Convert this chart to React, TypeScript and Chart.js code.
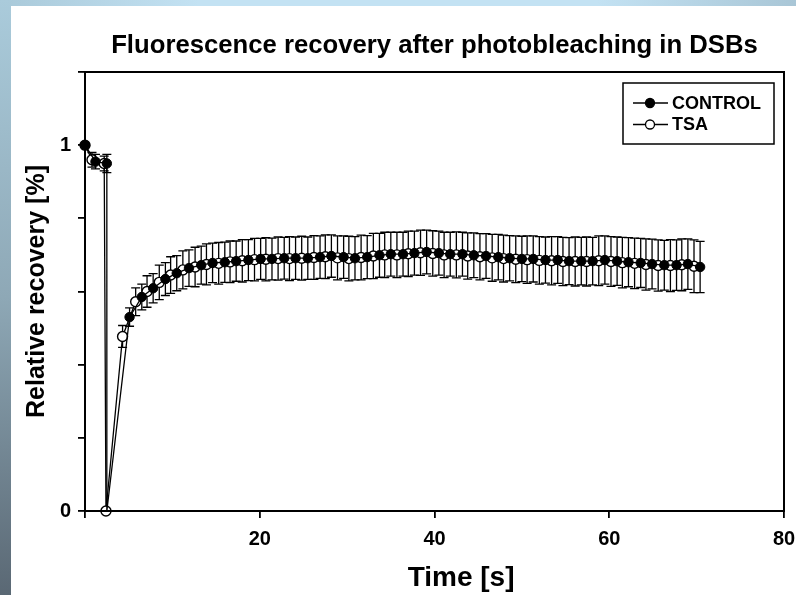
import React, { useEffect, useRef } from 'react';
import { Chart, registerables } from 'chart.js';

Chart.register(...registerables);

const FONT = '"Liberation Sans", Arial, Helvetica, sans-serif';

const CHART_TITLE = 'Fluorescence recovery after photobleaching in DSBs';
const X_TITLE = 'Time [s]';
const Y_TITLE = 'Relative recovery [%]';
const SERIES_NAMES = ['CONTROL', 'TSA'];

const X_TICKS = [0, 20, 40, 60, 80];
const X_TICK_LABELS = ['', '20', '40', '60', '80'];
const Y_TICKS = [0, 0.2, 0.4, 0.6, 0.8, 1, 1.2];
const Y_TICK_LABELS = ['0', '', '', '', '', '1', ''];

const controlTime = [0, 1.2, 2.5, 2.5, 5.1, 6.5, 7.8, 9.2, 10.5, 11.9, 13.3, 14.6, 16.0, 17.3, 18.7, 20.1, 21.4, 22.8, 24.1, 25.5, 26.9, 28.2, 29.6, 30.9, 32.3, 33.7, 35.0, 36.4, 37.7, 39.1, 40.5, 41.8, 43.2, 44.5, 45.9, 47.3, 48.6, 50.0, 51.3, 52.7, 54.1, 55.4, 56.8, 58.1, 59.5, 60.9, 62.2, 63.6, 64.9, 66.3, 67.7, 69.0, 70.4];
const controlValue = [1.0, 0.955, 0.95, 0, 0.530, 0.585, 0.609, 0.634, 0.650, 0.664, 0.672, 0.678, 0.680, 0.683, 0.686, 0.689, 0.689, 0.691, 0.691, 0.691, 0.694, 0.697, 0.694, 0.691, 0.694, 0.699, 0.702, 0.702, 0.705, 0.708, 0.705, 0.702, 0.702, 0.699, 0.697, 0.694, 0.691, 0.689, 0.689, 0.686, 0.686, 0.683, 0.683, 0.683, 0.686, 0.683, 0.680, 0.678, 0.675, 0.672, 0.672, 0.675, 0.667];
const controlError = [0, 0.02, 0.025, 0, 0.025, 0.035, 0.04, 0.045, 0.048, 0.05, 0.052, 0.054, 0.055, 0.055, 0.056, 0.056, 0.057, 0.057, 0.058, 0.058, 0.058, 0.058, 0.058, 0.059, 0.059, 0.06, 0.06, 0.06, 0.06, 0.06, 0.06, 0.06, 0.06, 0.061, 0.061, 0.062, 0.062, 0.062, 0.063, 0.063, 0.064, 0.064, 0.065, 0.065, 0.066, 0.066, 0.067, 0.067, 0.068, 0.068, 0.069, 0.069, 0.07];

const tsaTime = [0, 0.8, 2.2, 2.4, 4.3, 5.8, 7.1, 8.5, 9.8, 11.2, 12.6, 13.9, 15.3, 16.6, 18.0, 19.4, 20.7, 22.1, 23.4, 24.8, 26.2, 27.5, 28.9, 30.2, 31.6, 33.0, 34.3, 35.7, 37.0, 38.4, 39.8, 41.1, 42.5, 43.8, 45.2, 46.6, 47.9, 49.3, 50.6, 52.0, 53.4, 54.7, 56.1, 57.4, 58.8, 60.2, 61.5, 62.9, 64.2, 65.6, 67.0, 68.3, 69.7];
const tsaValue = [1.0, 0.96, 0.95, 0, 0.477, 0.572, 0.600, 0.625, 0.645, 0.659, 0.667, 0.674, 0.677, 0.681, 0.684, 0.687, 0.688, 0.690, 0.690, 0.691, 0.693, 0.695, 0.692, 0.690, 0.693, 0.697, 0.700, 0.700, 0.703, 0.706, 0.704, 0.700, 0.700, 0.697, 0.695, 0.692, 0.690, 0.688, 0.687, 0.685, 0.684, 0.682, 0.682, 0.682, 0.684, 0.682, 0.679, 0.677, 0.674, 0.671, 0.671, 0.673, 0.669];
const tsaError = [0, 0.02, 0.02, 0, 0.03, 0.038, 0.043, 0.047, 0.05, 0.052, 0.054, 0.056, 0.057, 0.057, 0.058, 0.058, 0.059, 0.059, 0.06, 0.06, 0.06, 0.06, 0.06, 0.061, 0.061, 0.062, 0.062, 0.062, 0.062, 0.062, 0.062, 0.062, 0.063, 0.063, 0.063, 0.064, 0.064, 0.064, 0.065, 0.065, 0.066, 0.066, 0.067, 0.067, 0.068, 0.068, 0.069, 0.069, 0.07, 0.07, 0.071, 0.071, 0.072];

const errorBarPlugin = {
  id: 'errorBars',
  beforeDatasetsDraw(chart: any) {
    const { ctx, chartArea } = chart;
    const yScale = chart.scales.y;
    ctx.save();
    ctx.strokeStyle = '#000';
    ctx.lineWidth = 1.3;
    chart.data.datasets.forEach((ds: any, di: number) => {
      const meta = chart.getDatasetMeta(di);
      meta.data.forEach((pt: any, i: number) => {
        const e = ds.errors[i];
        if (!e) return;
        const v = ds.data[i].y;
        const yt = yScale.getPixelForValue(v + e);
        const yb = Math.min(yScale.getPixelForValue(v - e), chartArea.bottom);
        const cap = 4.5;
        ctx.beginPath();
        ctx.moveTo(pt.x, yt);
        ctx.lineTo(pt.x, yb);
        ctx.moveTo(pt.x - cap, yt);
        ctx.lineTo(pt.x + cap, yt);
        ctx.moveTo(pt.x - cap, yb);
        ctx.lineTo(pt.x + cap, yb);
        ctx.stroke();
      });
    });
    ctx.restore();
  },
};

const framePlugin = {
  id: 'frameAndLegend',
  afterDraw(chart: any) {
    const { ctx, chartArea } = chart;
    const cx = (chartArea.left + chartArea.right) / 2;
    ctx.save();
    ctx.strokeStyle = '#000';
    ctx.lineWidth = 2;
    ctx.strokeRect(chartArea.left, chartArea.top, chartArea.right - chartArea.left, chartArea.bottom - chartArea.top);

    ctx.fillStyle = '#000';
    ctx.textAlign = 'center';
    ctx.textBaseline = 'middle';
    // chart title, centred over the plot area
    ctx.font = `bold 25.7px ${FONT}`;
    ctx.fillText(CHART_TITLE, cx, chartArea.top - 26);
    // x axis title
    ctx.font = `bold 28px ${FONT}`;
    ctx.fillText(X_TITLE, chartArea.left + (chartArea.right - chartArea.left) * 0.538, 578);

    // legend box
    const w = 151, h = 61;
    const x1 = chartArea.right - w - 10;
    const y1 = chartArea.top + 11;
    ctx.lineWidth = 1.5;
    ctx.strokeRect(x1, y1, w, h);
    ctx.font = `bold 18px ${FONT}`;
    ctx.textAlign = 'left';
    chart.data.datasets.forEach((ds: any, i: number) => {
      const cy = y1 + 20 + i * 21.5;
      ctx.beginPath();
      ctx.lineWidth = 1.3;
      ctx.moveTo(x1 + 10, cy);
      ctx.lineTo(x1 + 45, cy);
      ctx.stroke();
      ctx.beginPath();
      ctx.arc(x1 + 27, cy, 4.5, 0, Math.PI * 2);
      ctx.fillStyle = ds.pointBackgroundColor;
      ctx.fill();
      ctx.lineWidth = 1.3;
      ctx.stroke();
      ctx.fillStyle = '#000';
      ctx.fillText(ds.label, x1 + 49, cy + 1);
    });
    ctx.restore();
  },
};

export default function App() {
  const canvasRef = useRef<HTMLCanvasElement | null>(null);

  useEffect(() => {
    const canvas = canvasRef.current;
    if (!canvas) return;
    const chart = new Chart(canvas, {
      type: 'scatter',
      data: {
        datasets: [
          {
            label: SERIES_NAMES[0],
            data: controlTime.map((t, i) => ({ x: t, y: controlValue[i] })),
            errors: controlError,
            showLine: true,
            borderColor: '#000',
            borderWidth: 1.3,
            pointBackgroundColor: '#000',
            pointBorderColor: '#000',
            pointBorderWidth: 1,
            pointRadius: (c: any) => (controlValue[c.dataIndex] === 0 ? 0 : 4.7),
            order: 0,
            clip: false,
          } as any,
          {
            label: SERIES_NAMES[1],
            data: tsaTime.map((t, i) => ({ x: t, y: tsaValue[i] })),
            errors: tsaError,
            showLine: true,
            borderColor: '#000',
            borderWidth: 1.3,
            pointBackgroundColor: '#fff',
            pointBorderColor: '#000',
            pointBorderWidth: 1.4,
            pointRadius: 5,
            order: 1,
            clip: false,
          } as any,
        ],
      },
      options: {
        responsive: false,
        animation: false,
        events: [],
        layout: { padding: { left: 0, right: 12, top: 72, bottom: 0 } },
        plugins: {
          legend: { display: false },
          tooltip: { enabled: false },
          title: { display: false },
        },
        scales: {
          x: {
            type: 'linear',
            min: 0,
            max: 80,
            afterBuildTicks: (s: any) => {
              s.ticks = X_TICKS.map((v) => ({ value: v }));
            },
            afterFit: (s: any) => {
              s.height = 84;
              s.paddingLeft = 0;
              s.paddingRight = 0;
            },
            ticks: {
              color: '#000',
              font: { family: FONT, size: 20, weight: 'bold' },
              padding: 9,
              maxRotation: 0,
              autoSkip: false,
              callback: (_v: any, i: number) => X_TICK_LABELS[i],
            },
            grid: { drawOnChartArea: false, drawTicks: true, tickLength: 7, color: '#000', lineWidth: 1.8 },
            border: { display: true, color: '#000', width: 2 },
            title: { display: false },
          },
          y: {
            type: 'linear',
            min: 0,
            max: 1.2,
            afterBuildTicks: (s: any) => {
              s.ticks = Y_TICKS.map((v) => ({ value: v }));
            },
            afterFit: (s: any) => {
              s.width = 85;
              s.paddingTop = 0;
              s.paddingBottom = 0;
            },
            ticks: {
              color: '#000',
              font: { family: FONT, size: 20, weight: 'bold' },
              padding: 7,
              autoSkip: false,
              callback: (_v: any, i: number) => Y_TICK_LABELS[i],
            },
            grid: { drawOnChartArea: false, drawTicks: true, tickLength: 7, color: '#000', lineWidth: 1.8 },
            border: { display: true, color: '#000', width: 2 },
            title: {
              display: true,
              text: Y_TITLE,
              color: '#000',
              font: { family: FONT, size: 25, weight: 'bold', lineHeight: 1.2 },
              padding: { top: 22, bottom: 0 },
            },
          },
        },
      },
      plugins: [errorBarPlugin, framePlugin],
    });
    return () => chart.destroy();
  }, []);

  return (
    <div style={{ position: 'absolute', left: 0, top: 0, width: 796, height: 595, background: '#fff', overflow: 'hidden' }}>
      <div style={{ position: 'absolute', left: 0, top: 0, width: 796, height: 6, background: 'linear-gradient(to right, #a9c9d9, #c3e2f3 25%, #c3e2f3 75%, #a9c6d6)' }} />
      <div style={{ position: 'absolute', left: 0, top: 0, width: 11, height: 595, background: 'linear-gradient(to bottom, #aacbdb, #8ea8b6 50%, #5a6874)' }} />
      <canvas ref={canvasRef} width={796} height={595} style={{ position: 'absolute', left: 0, top: 0, width: 796, height: 595 }} />
    </div>
  );
}
